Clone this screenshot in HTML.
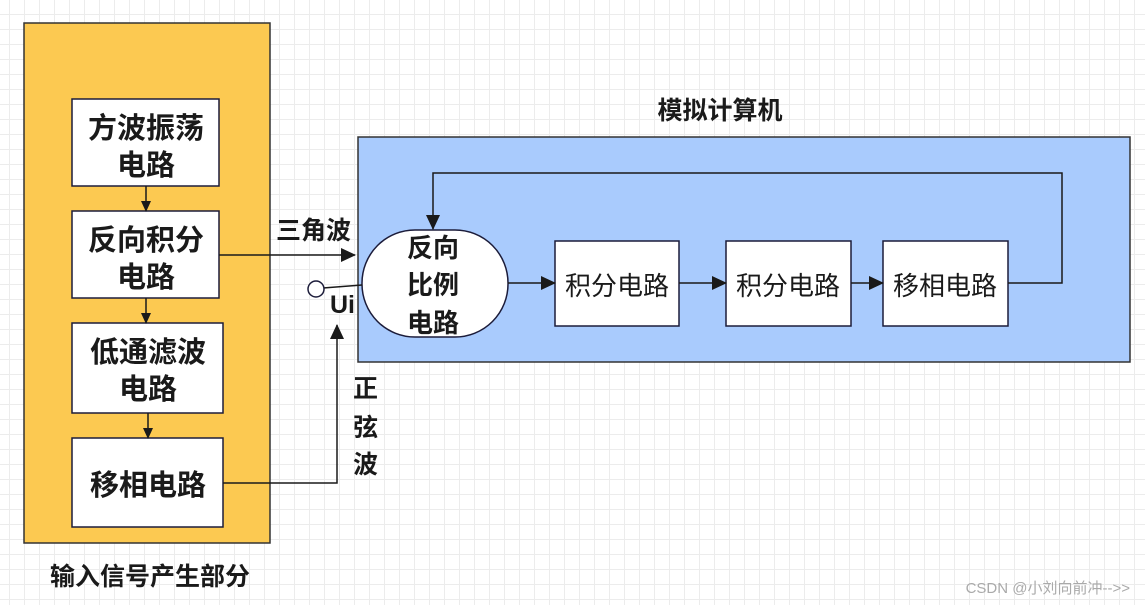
<!DOCTYPE html>
<html><head><meta charset="utf-8"><style>
body{margin:0;width:1145px;height:605px;overflow:hidden;background:#fff;
background-image:linear-gradient(#ececec 1px,transparent 1px),linear-gradient(90deg,#ececec 1px,transparent 1px);
background-size:15px 15px;background-position:9px 14px;}
svg{position:absolute;left:0;top:0}
text{font-family:"Liberation Sans","Noto Sans CJK SC",sans-serif;fill:#1a1a1a}
</style></head><body>
<svg width="1145" height="605" viewBox="0 0 1145 605">
<defs><marker id="a" markerWidth="15" markerHeight="14" refX="14" refY="7" orient="auto" markerUnits="userSpaceOnUse"><path d="M0,0 L15,7 L0,14 z" fill="#1a1a1a"/></marker>
<marker id="s" markerWidth="11" markerHeight="10" refX="10" refY="5" orient="auto" markerUnits="userSpaceOnUse"><path d="M0,0 L11,5 L0,10 z" fill="#1a1a1a"/></marker></defs>
<rect x="24" y="23" width="246" height="520" fill="#fcc951" stroke="#333" stroke-width="1.5"/>
<g fill="#fff" stroke="#1c1c3a" stroke-width="1.5">
<rect x="72" y="99" width="147" height="87"/>
<rect x="72" y="211" width="147" height="87"/>
<rect x="72" y="323" width="151" height="90"/>
<rect x="72" y="438" width="151" height="89"/>
</g>
<g font-size="29" font-weight="bold" text-anchor="middle">
<text x="146" y="138">方波振荡</text><text x="146" y="175">电路</text>
<text x="146" y="250">反向积分</text><text x="146" y="287">电路</text>
<text x="148" y="362">低通滤波</text><text x="148" y="399">电路</text>
<text x="148" y="495">移相电路</text>
</g>
<g stroke="#1a1a1a" stroke-width="1.5" fill="none">
<line x1="146" y1="186" x2="146" y2="211" marker-end="url(#s)"/>
<line x1="146" y1="298" x2="146" y2="323" marker-end="url(#s)"/>
<line x1="148" y1="413" x2="148" y2="438" marker-end="url(#s)"/>
</g>
<text x="150" y="585" font-size="25" font-weight="bold" text-anchor="middle">输入信号产生部分</text>
<text x="720" y="119" font-size="25" font-weight="bold" text-anchor="middle">模拟计算机</text>
<rect x="358" y="137" width="772" height="225" fill="#a9cbfd" stroke="#333" stroke-width="1.5"/>
<rect x="362" y="230" width="146" height="107" rx="53" ry="53" fill="#fff" stroke="#1c1c3a" stroke-width="1.5"/>
<g font-size="26" font-weight="bold" text-anchor="middle">
<text x="433" y="257">反向</text><text x="433" y="294">比例</text><text x="433" y="332">电路</text>
</g>
<g fill="#fff" stroke="#1c1c3a" stroke-width="1.5">
<rect x="555" y="241" width="124" height="85"/>
<rect x="726" y="241" width="125" height="85"/>
<rect x="883" y="241" width="125" height="85"/>
</g>
<g font-size="26" text-anchor="middle">
<text x="617" y="295">积分电路</text><text x="788" y="295">积分电路</text><text x="945" y="295">移相电路</text>
</g>
<g stroke="#1a1a1a" stroke-width="1.5" fill="none">
<line x1="508" y1="283" x2="555" y2="283" marker-end="url(#a)"/>
<line x1="679" y1="283" x2="726" y2="283" marker-end="url(#a)"/>
<line x1="851" y1="283" x2="883" y2="283" marker-end="url(#a)"/>
<polyline points="1008,283 1062,283 1062,173 433,173 433,229" marker-end="url(#a)"/>
<line x1="219" y1="255" x2="355" y2="255" marker-end="url(#a)"/>
<polyline points="223,483 337,483 337,325" marker-end="url(#a)"/>
<line x1="323" y1="288" x2="362" y2="285"/>
</g>
<circle cx="316" cy="289" r="8" fill="#fff" stroke="#1c1c3a" stroke-width="1.5"/>
<g font-size="25" font-weight="bold">
<text x="276" y="239">三角波</text>
<text x="330" y="313">Ui</text>
<text x="353" y="397">正</text><text x="353" y="436">弦</text><text x="353" y="473">波</text>
</g>
<text x="1130" y="593" font-size="15" style="fill:#aaa" text-anchor="end">CSDN @小刘向前冲-->></text>
</svg>
</body></html>
